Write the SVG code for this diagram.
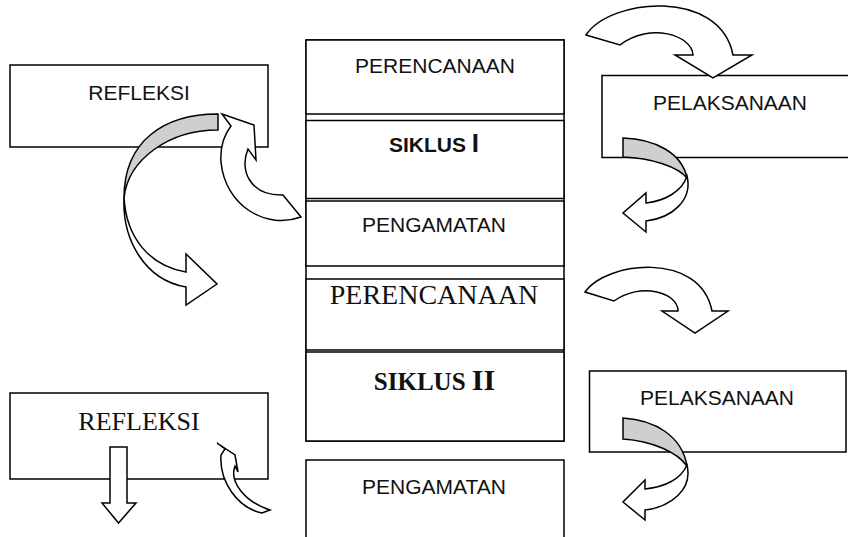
<svg xmlns="http://www.w3.org/2000/svg" width="848" height="537" viewBox="0 0 848 537">
<style>
.box{fill:#fff;stroke:#000;stroke-width:1.5}
.sans{font-family:"Liberation Sans",Arial,sans-serif;font-size:21px;fill:#111;text-anchor:middle}
.serif{font-family:"Liberation Serif","Times New Roman",serif;fill:#111;text-anchor:middle}
.arr{fill:#fff;stroke:#000;stroke-width:1.5;stroke-linejoin:miter}
.shade{fill:#cfcfcf;stroke:#000;stroke-width:1.5}
</style>
<rect width="848" height="537" fill="#fff"/>
<g id="stack-frame"><rect class="box" x="306" y="40" width="258" height="401"/></g>
<g id="perencanaan-1"><rect class="box" x="306" y="40" width="258" height="74"/><text class="sans" x="435" y="73">PERENCANAAN</text></g>
<g id="siklus-1"><rect class="box" x="306" y="120.5" width="258" height="78"/><text class="sans" x="434" y="152" font-weight="bold" font-size="18.5">SIKLUS <tspan font-size="26">I</tspan></text></g>
<g id="pengamatan-1"><rect class="box" x="306" y="201" width="258" height="65"/><text class="sans" x="434" y="232">PENGAMATAN</text></g>
<g id="perencanaan-2"><rect class="box" x="306" y="279" width="258" height="71"/><text class="serif" x="434" y="303.5" font-size="28">PERENCANAAN</text></g>
<g id="siklus-2"><rect class="box" x="306" y="352" width="258" height="89"/><text class="serif" x="434.5" y="390" font-size="25" font-weight="bold">SIKLUS <tspan font-size="30">II</tspan></text></g>
<g id="pengamatan-2"><rect class="box" x="306" y="460" width="258" height="100"/><text class="sans" x="434" y="493.5">PENGAMATAN</text></g>
<g id="refleksi-1"><rect class="box" x="10" y="65" width="258" height="82"/><text class="sans" x="139" y="99.5" font-size="20">REFLEKSI</text></g>
<g id="pelaksanaan-1"><rect class="box" x="602" y="75.5" width="252" height="82"/><text class="sans" x="730" y="110">PELAKSANAAN</text></g>
<g id="refleksi-2"><rect class="box" x="10" y="393" width="258" height="86"/><text class="serif" x="139" y="430" font-size="26">REFLEKSI</text></g>
<g id="pelaksanaan-2"><rect class="box" x="589.5" y="371" width="256.5" height="81"/><text class="sans" x="717" y="405">PELAKSANAAN</text></g>
<g id="connectors">
<!-- top right curved arrow -->
<path class="arr" d="M586,35 C610,-2 720,-12 733,55 L752,55 L713,78 L675,55 L693,55 C692,35 650,22 620,45 Z"/>
<!-- second right curved arrow -->
<path class="arr" d="M585,292 C605,262 700,250 712,311 L728,311 L695,333 L662,311 L678,311 C678,292 640,282 614,301 Z"/>
<!-- top right ribbon arrow -->
<path class="shade" d="M623,138 L623,157 C652,158 678,167 687,178 C682,153 655,139 623,138 Z"/>
<path class="arr" d="M687,176 C693,200 672,218 646,221 L646,232 L623,213 L646,193 L646,203 C664,201 682,192 687,176 Z"/>
<!-- bottom right ribbon arrow -->
<path class="shade" d="M623,418 L623,439 C652,441 677,452 687,466 C682,436 655,420 623,418 Z"/>
<path class="arr" d="M687,465 C693,490 670,507 645,510 L645,520 L623,502 L645,480 L645,489 C665,487 681,479 687,465 Z"/>
<!-- big left ribbon arrow -->
<path class="shade" d="M218,114 L218,130 C168,130 128,160 124,198 C124,140 165,114 218,114 Z"/>
<path class="arr" d="M124,197 C122,240 145,280 186,287 L186,305 L217,284 L186,254 L186,272 C150,266 126,238 124,197 Z"/>
<!-- small left curved arrow -->
<path class="arr" d="M222,114 L254,125 L256,160 L248,149 C239,170 250,196 283,195 L301,217 C265,230 225,205 221,162 C220,147 224,135 231,126 Z"/>
<!-- bottom left down arrow -->
<path class="arr" d="M110,447 L127,447 L127,503 L136,503 L118.5,523 L102,503 L110,503 Z"/>
<!-- bottom left small curved arrow -->
<path class="arr" d="M217,443 L235,455 L238,472 L235,466 C229,482 245,502 270,510 L262,513 C238,508 219,482 221,455 L225,449 Z"/>
</g>
</svg>
